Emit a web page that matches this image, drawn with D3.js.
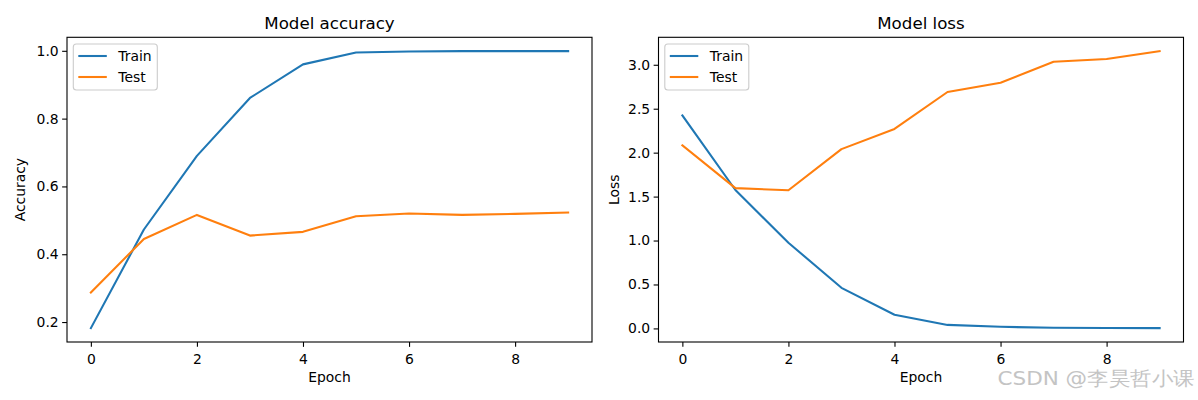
<!DOCTYPE html>
<html>
<head>
<meta charset="utf-8">
<script src="https://cdn.jsdelivr.net/npm/d3@7"></script>
<style>
  html, body { margin: 0; padding: 0; background: #fff; }
  svg { display: block; }
  text { font-family: "DejaVu Sans", sans-serif; fill: #000; }
</style>
</head>
<body>
<svg id="chart" width="1198" height="400"></svg>
<script>
// ---- data ----
const epochs = [0, 1, 2, 3, 4, 5, 6, 7, 8, 9];
const trainAccuracy = [0.182, 0.473, 0.690, 0.861, 0.960, 0.995, 0.998, 0.999, 0.999, 0.999];
const testAccuracy  = [0.287, 0.445, 0.516, 0.455, 0.466, 0.512, 0.520, 0.516, 0.519, 0.523];
const trainLoss = [2.424, 1.575, 0.975, 0.462, 0.155, 0.040, 0.018, 0.008, 0.005, 0.003];
const testLoss  = [2.083, 1.596, 1.572, 2.040, 2.270, 2.690, 2.795, 3.035, 3.065, 3.155];
const xTicks = [0, 2, 4, 6, 8];
const accTicks = [0.2, 0.4, 0.6, 0.8, 1.0];
const lossTicks = [0.0, 0.5, 1.0, 1.5, 2.0, 2.5, 3.0];
const seriesNames = ["Train", "Test"];
const colors = ["#1f77b4", "#ff7f0e"];

const svg = d3.select("#chart");

function panel(cfg) {
  const {x0, x1, y0, y1, train, test, yTicks, title, ylabel, ylabelX} = cfg;
  const all = train.concat(test);
  const mn = d3.min(all), mx = d3.max(all), r = mx - mn;
  const x = d3.scaleLinear().domain([-0.45, 9.45]).range([x0, x1]);
  const y = d3.scaleLinear().domain([mn - 0.05 * r, mx + 0.05 * r]).range([y1, y0]);
  const g = svg.append("g");

  // lines
  const line = d3.line().x((d, i) => x(epochs[i])).y(d => y(d));
  [train, test].forEach((s, k) => {
    g.append("path").datum(s)
      .attr("d", line)
      .attr("fill", "none")
      .attr("stroke", colors[k])
      .attr("stroke-width", 2.08)
      .attr("stroke-linejoin", "round")
      .attr("stroke-linecap", "square");
  });

  // axes
  const xa = g.append("g").attr("transform", `translate(0,${y1})`)
    .call(d3.axisBottom(x).tickValues(xTicks).tickSize(4.86).tickPadding(3.5).tickFormat(d3.format("d")));
  const ya = g.append("g").attr("transform", `translate(${x0},0)`)
    .call(d3.axisLeft(y).tickValues(yTicks).tickSize(4.86).tickPadding(3.5).tickFormat(d3.format(".1f")));
  [xa, ya].forEach(a => {
    a.select(".domain").remove();
    a.selectAll(".tick line").attr("stroke", "#000").attr("stroke-width", 1.1);
    a.selectAll(".tick text").attr("font-family", "DejaVu Sans").attr("font-size", 13.9).attr("fill", "#000");
  });
  xa.selectAll(".tick text").attr("dy", "0.95em");

  // frame
  g.append("rect").attr("x", x0).attr("y", y0).attr("width", x1 - x0).attr("height", y1 - y0)
    .attr("fill", "none").attr("stroke", "#000").attr("stroke-width", 1.1);

  // title
  g.append("text").attr("x", (x0 + x1) / 2).attr("y", 29)
    .attr("text-anchor", "middle").attr("font-size", 16.67).text(title);
  // x label
  g.append("text").attr("x", (x0 + x1) / 2).attr("y", 382)
    .attr("text-anchor", "middle").attr("font-size", 13.9).text("Epoch");
  // y label
  g.append("text").attr("transform", `translate(${ylabelX},${(y0 + y1) / 2}) rotate(-90)`)
    .attr("text-anchor", "middle").attr("font-size", 13.9).text(ylabel);

  // legend
  const lx = x0 + 6.3, ly = 44;
  const lg = g.append("g");
  lg.append("rect").attr("x", lx).attr("y", ly).attr("width", 84).attr("height", 46)
    .attr("rx", 3).attr("ry", 3)
    .attr("fill", "#fff").attr("fill-opacity", 0.8)
    .attr("stroke", "#cccccc").attr("stroke-width", 1.1);
  seriesNames.forEach((n, k) => {
    const yy = 56 + k * 21;
    lg.append("line").attr("x1", lx + 5).attr("x2", lx + 33.5).attr("y1", yy).attr("y2", yy)
      .attr("stroke", colors[k]).attr("stroke-width", 2.08);
    lg.append("text").attr("x", lx + 45).attr("y", yy + 5.2)
      .attr("font-size", 13.9).text(n);
  });
}

panel({x0: 67, x1: 592, y0: 37.3, y1: 342, train: trainAccuracy, test: testAccuracy,
       yTicks: accTicks, title: "Model accuracy", ylabel: "Accuracy", ylabelX: 25});
panel({x0: 658.5, x1: 1183.5, y0: 37.3, y1: 342, train: trainLoss, test: testLoss,
       yTicks: lossTicks, title: "Model loss", ylabel: "Loss", ylabelX: 619});

// watermark
svg.append("text").attr("x", 997.5).attr("y", 385)
  .attr("font-family", "Liberation Sans, Noto Sans CJK SC, sans-serif")
  .attr("font-size", 19)
  .attr("textLength", 197).attr("lengthAdjust", "spacingAndGlyphs")
  .style("fill", "#c4c4c4")
  .text("CSDN @李昊哲小课");
</script>
</body>
</html>
